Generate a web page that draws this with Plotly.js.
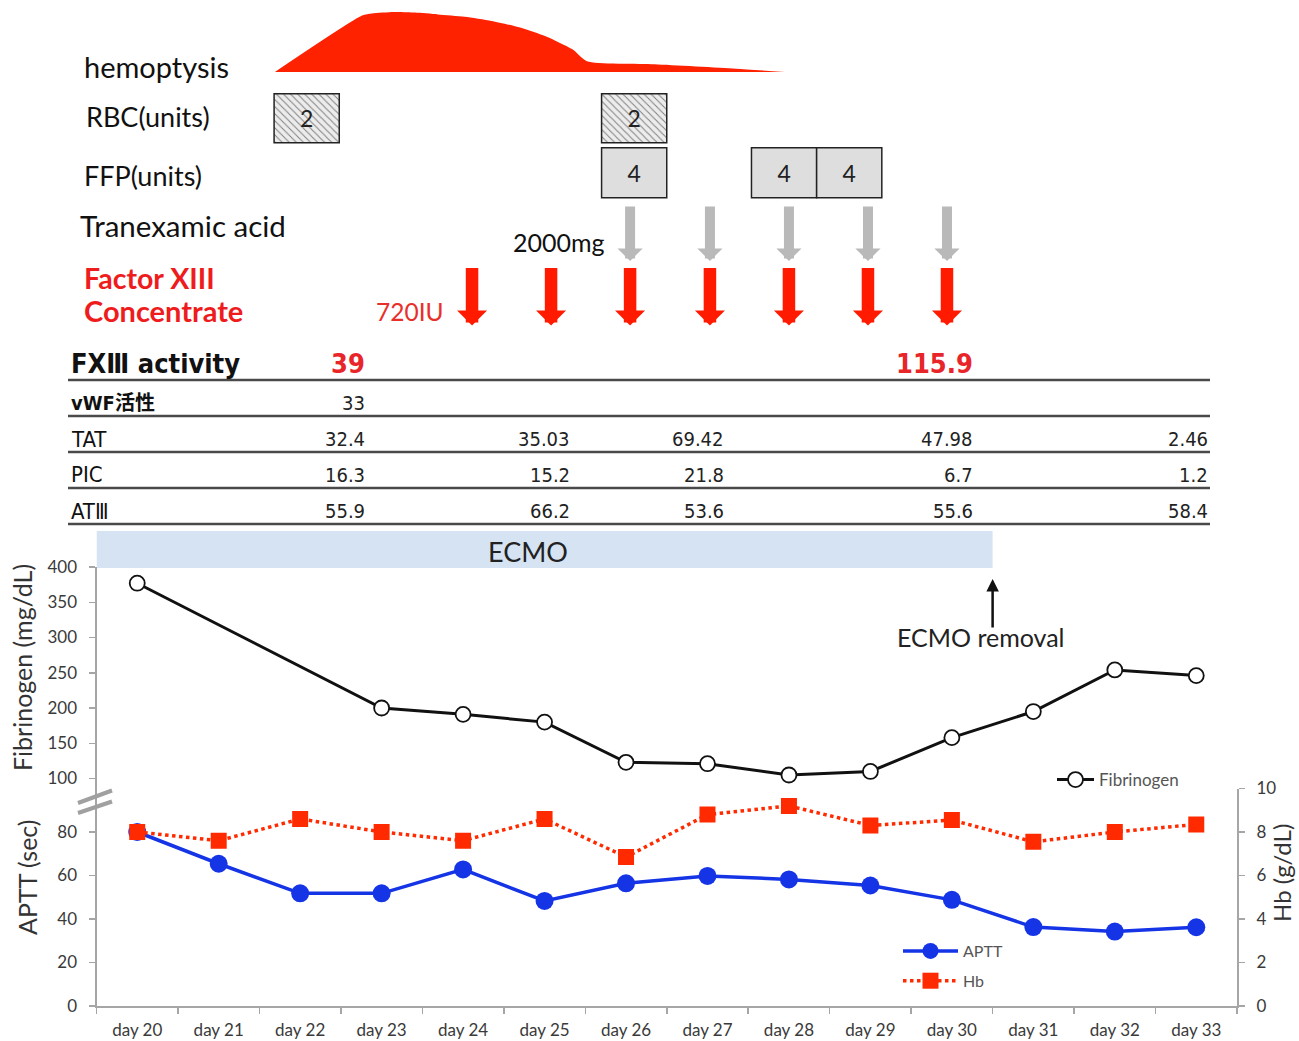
<!DOCTYPE html>
<html><head><meta charset="utf-8">
<script src="https://cdn.plot.ly/plotly-3.0.1.min.js"></script>
<style>html,body{margin:0;padding:0;background:#fff}#chart{width:1299px;height:1041px}</style>
</head><body><div id="chart"></div>
<script>
// ---------------- data ----------------
const days = ['day 20','day 21','day 22','day 23','day 24','day 25','day 26','day 27','day 28','day 29','day 30','day 31','day 32','day 33'];
const fibrinogen = [377, null, null, 200, 191, 180, 123, 121, 105, 110, 158, 195, 254, 246];
const aptt = [80, 65.4, 51.8, 51.8, 62.8, 48.3, 56.4, 59.8, 58.2, 55.4, 48.8, 36.3, 34.2, 36.2];
const hb = [8.0, 7.6, 8.6, 8.0, 7.6, 8.6, 6.85, 8.8, 9.2, 8.3, 8.55, 7.55, 8.0, 8.35];

const hemoptysisDay = [21.69, 22.76, 22.88, 23.15, 23.41, 23.69, 24.02, 24.35, 24.70, 25.02, 25.35, 25.52, 26.35, 27.35, 27.95];
const hemoptysisLevel = [0, 0.94, 0.975, 1.0, 0.99, 0.96, 0.92, 0.85, 0.74, 0.59, 0.37, 0.18, 0.13, 0.056, 0];

const rbcDay = [22.08, 26.10];
const rbcUnits = ['2', '2'];
const ffpDay = [26.10, 27.94, 28.74];
const ffpUnits = ['4', '4', '4'];
const tranexamicDay = [26.05, 27.03, 28.0, 28.97, 29.94];
const fxiiiDoseDay = [24.11, 25.08, 26.05, 27.03, 28.0, 28.97, 29.94];
const ecmoStartDay = 19.5;
const ecmoEndDay = 30.5;

const tableLabels = ['FXⅢ activity', 'vWF活性', 'TAT', 'PIC', 'ATⅢ'];
const fxiiiActivity = ['39', '', '', '115.9', ''];
const vwfActivity = ['33', '', '', '', ''];
const tatValues = ['32.4', '35.03', '69.42', '47.98', '2.46'];
const picValues = ['16.3', '15.2', '21.8', '6.7', '1.2'];
const at3Values = ['55.9', '66.2', '53.6', '55.6', '58.4'];

// ---------------- layout helpers ----------------
const W = 1299, H = 1041;
const px = v => v / W;
const py = v => 1 - v / H;
const sans = 'Lato, "Noto Sans", sans-serif';
const narrow = '"Liberation Sans Narrow", "Arial Narrow", "DejaVu Sans Condensed", Lato, "Noto Sans CJK JP", sans-serif';
const xDomain = [px(96.5), px(1237)];
const axisGray = '#a6a6a6';
const tickFont = {family: sans, size: 17, color: '#3a3a3a'};
const boxWidth = 0.8;

const traces = [
  {
    x: days, y: fibrinogen, xaxis: 'x', yaxis: 'y2', name: 'Fibrinogen', legend: 'legend2',
    mode: 'lines+markers', connectgaps: true,
    line: {color: '#111', width: 3},
    marker: {symbol: 'circle', size: 15, color: '#fff', line: {color: '#111', width: 1.8}}
  },
  {
    x: days, y: aptt, xaxis: 'x', yaxis: 'y', name: 'APTT', legend: 'legend', legendgroup: 'a',
    mode: 'lines+markers',
    line: {color: '#1434e6', width: 3.5},
    marker: {symbol: 'circle', size: 18, color: '#1434e6'}
  },
  {
    x: days, y: hb, xaxis: 'x', yaxis: 'y3', name: 'Hb', legend: 'legend', legendgroup: 'b',
    mode: 'lines+markers',
    line: {color: '#ff2a00', width: 3.5, dash: 'dot'},
    marker: {symbol: 'square', size: 16, color: '#ff2a00'}
  },
  {
    x: hemoptysisDay, y: hemoptysisLevel, xaxis: 'x2', yaxis: 'y5',
    mode: 'lines', fill: 'tozeroy', fillcolor: '#ff2200', line: {width: 0, color: '#ff2200', shape: 'spline', smoothing: 0.6},
    showlegend: false, hoverinfo: 'skip'
  },
  {
    type: 'bar', orientation: 'h', xaxis: 'x2', yaxis: 'y4',
    y: rbcDay.map(() => 'RBC'), x: rbcDay.map(() => boxWidth), base: rbcDay.map(d => d - boxWidth / 2),
    width: 0.9, text: rbcUnits, textposition: 'inside', insidetextanchor: 'middle', textangle: 0,
    textfont: {family: sans, size: 23, color: '#222'},
    marker: {color: '#ececec', line: {color: '#222', width: 1.5},
      pattern: {shape: '\\', fgcolor: '#808080', bgcolor: '#ececec', size: 5, solidity: 0.2}},
    showlegend: false, hoverinfo: 'skip'
  },
  {
    type: 'bar', orientation: 'h', xaxis: 'x2', yaxis: 'y4',
    y: ffpDay.map(() => 'FFP'), x: ffpDay.map(() => boxWidth), base: ffpDay.map(d => d - boxWidth / 2),
    width: 0.92, text: ffpUnits, textposition: 'inside', insidetextanchor: 'middle', textangle: 0,
    textfont: {family: sans, size: 23, color: '#222'},
    marker: {color: '#dedede', line: {color: '#222', width: 1.5}},
    showlegend: false, hoverinfo: 'skip'
  }
];

const annotations = [];
const shapes = [];
function label(text, x, y, opts) {
  annotations.push(Object.assign({
    text: text, xref: 'paper', yref: 'paper', x: px(x), y: py(y),
    xanchor: 'left', yanchor: 'middle', showarrow: false,
    font: {family: sans, size: 26, color: '#111'}
  }, opts || {}));
}

// left labels of the top block
label('hemoptysis', 82, 67, {font: {family: sans, size: 29, color: '#111'}});
label('RBC(units)', 84, 117, {font: {family: sans, size: 27, color: '#111'}});
label('FFP(units)', 82, 175, {font: {family: sans, size: 27, color: '#111'}});
label('Tranexamic acid', 78, 226, {font: {family: sans, size: 29.5, color: '#111'}});
label('<b>Factor XIII</b>', 82, 278, {font: {family: sans, size: 28.5, color: '#ee1c1c'}});
label('<b>Concentrate</b>', 82, 310, {font: {family: sans, size: 29, color: '#ee1c1c'}});
label('2000mg', 559, 242, {xanchor: 'center', font: {family: sans, size: 25, color: '#111'}});
label('720IU', 410, 311, {xanchor: 'center', font: {family: sans, size: 24.5, color: '#e8302a'}});

// arrows
tranexamicDay.forEach(d => annotations.push({
  xref: 'x2', yref: 'paper', x: d, y: py(261), ax: 0, ay: -56, text: '',
  showarrow: true, arrowhead: 1, arrowwidth: 10, arrowsize: 0.42, arrowcolor: '#b9b9b9', standoff: 0
}));
fxiiiDoseDay.forEach(d => annotations.push({
  xref: 'x2', yref: 'paper', x: d, y: py(325.5), ax: 0, ay: -59, text: '',
  showarrow: true, arrowhead: 1, arrowwidth: 12.5, arrowsize: 0.4, arrowcolor: '#ff1a00', standoff: 0
}));

// table
const rowY = [363, 403, 439, 475, 511];
const lineY = [380, 416, 452, 488, 524];
const colRight = [367, 572, 726, 975, 1210];
const rowValues = [fxiiiActivity, vwfActivity, tatValues, picValues, at3Values];
const labelSize = [27, 20, 22, 22, 22];
tableLabels.forEach((t, i) => {
  const big = i === 0;
  label(i <= 1 ? '<b>' + t + '</b>' : t, 69, rowY[i],
    {font: {family: narrow, size: labelSize[i], color: '#111'}});
  rowValues[i].forEach((v, j) => {
    if (!v) return;
    label(big ? '<b>' + v + '</b>' : v, colRight[j], rowY[i],
      {xanchor: 'right', font: {family: narrow, size: big ? 27 : 20, color: big ? '#e8262a' : '#222'}});
  });
});
lineY.forEach(y => shapes.push({
  type: 'line', xref: 'paper', yref: 'paper', x0: px(68), x1: px(1210), y0: py(y), y1: py(y),
  line: {color: '#4a4a4a', width: 2.6}
}));

// ECMO band
shapes.push({type: 'rect', xref: 'x2', yref: 'paper', x0: ecmoStartDay, x1: ecmoEndDay, y0: py(568), y1: py(531),
  fillcolor: '#d6e3f3', line: {width: 0}, layer: 'below'});
label('ECMO', 528, 551, {xanchor: 'center', font: {family: sans, size: 27, color: '#222'}});
annotations.push({xref: 'x2', yref: 'paper', x: ecmoEndDay, y: py(579), ax: 0, ay: 50, text: '',
  showarrow: true, arrowhead: 2, arrowwidth: 2.5, arrowsize: 1, arrowcolor: '#111', standoff: 0});
label('ECMO removal', 981, 637, {xanchor: 'center', font: {family: sans, size: 25, color: '#222'}});

// axis titles
label('Fibrinogen (mg/dL)', 22, 668, {xanchor: 'center', textangle: -90, font: {family: sans, size: 25, color: '#333'}});
label('APTT (sec)', 27, 877, {xanchor: 'center', textangle: -90, font: {family: sans, size: 25, color: '#333'}});
label('Hb (g/dL)', 1282, 873, {xanchor: 'center', textangle: -90, font: {family: sans, size: 24, color: '#333'}});

// axis break marks
shapes.push({type: 'line', xref: 'paper', yref: 'paper', x0: px(78), y0: py(803), x1: px(112), y1: py(790.5), line: {color: '#a0a0a0', width: 4}});
shapes.push({type: 'line', xref: 'paper', yref: 'paper', x0: px(78), y0: py(813), x1: px(112), y1: py(801.5), line: {color: '#a0a0a0', width: 4}});

const yCommon = {
  showline: true, linecolor: axisGray, linewidth: 2, ticks: 'outside', ticklen: 6, tickwidth: 1.5,
  tickcolor: axisGray, tickfont: tickFont, showgrid: false, zeroline: false, fixedrange: true,
  ticklabelstandoff: 8
};

const layout = {
  width: W, height: H, margin: {l: 0, r: 0, t: 0, b: 0},
  paper_bgcolor: '#fff', plot_bgcolor: 'rgba(0,0,0,0)',
  barmode: 'overlay', font: {family: sans},
  xaxis: {
    domain: xDomain, type: 'category', range: [-0.5, 13.5], anchor: 'y', tickson: 'boundaries',
    showline: true, linecolor: axisGray, linewidth: 2, ticks: 'outside', ticklen: 6, tickwidth: 1.5,
    tickcolor: axisGray, tickfont: tickFont, showgrid: false, zeroline: false, ticklabelstandoff: 8
  },
  xaxis2: {domain: xDomain, range: [19.5, 33.5], anchor: 'y4', visible: false, showgrid: false, zeroline: false},
  yaxis: Object.assign({}, yCommon, {domain: [py(1006), py(788.5)], range: [0, 100], tickvals: [0, 20, 40, 60, 80], anchor: 'x'}),
  yaxis3: Object.assign({}, yCommon, {overlaying: 'y', side: 'right', range: [0, 10], tickvals: [0, 2, 4, 6, 8, 10], anchor: 'x'}),
  yaxis2: Object.assign({}, yCommon, {domain: [py(789.8), py(567)], range: [84, 400], tickvals: [100, 150, 200, 250, 300, 350, 400], anchor: 'x'}),
  yaxis4: {domain: [py(200), py(91)], type: 'category', categoryarray: ['FFP', 'RBC'], categoryorder: 'array',
    range: [-0.5, 1.5], anchor: 'x2', visible: false, showgrid: false},
  yaxis5: {domain: [py(72), py(12)], range: [0, 1], anchor: 'x2', visible: false, showgrid: false, zeroline: false},
  legend: {x: px(898), y: py(934), xanchor: 'left', yanchor: 'top', bgcolor: 'rgba(0,0,0,0)',
    font: {family: sans, size: 16, color: '#555'}, itemwidth: 55, tracegroupgap: 6},
  legend2: {x: px(1052), y: py(762), xanchor: 'left', yanchor: 'top', bgcolor: 'rgba(0,0,0,0)',
    font: {family: sans, size: 17, color: '#555'}, itemwidth: 37},
  shapes: shapes,
  annotations: annotations,
  showlegend: true
};

Plotly.newPlot('chart', traces, layout, {displayModeBar: false, staticPlot: true});
</script>
</body></html>
